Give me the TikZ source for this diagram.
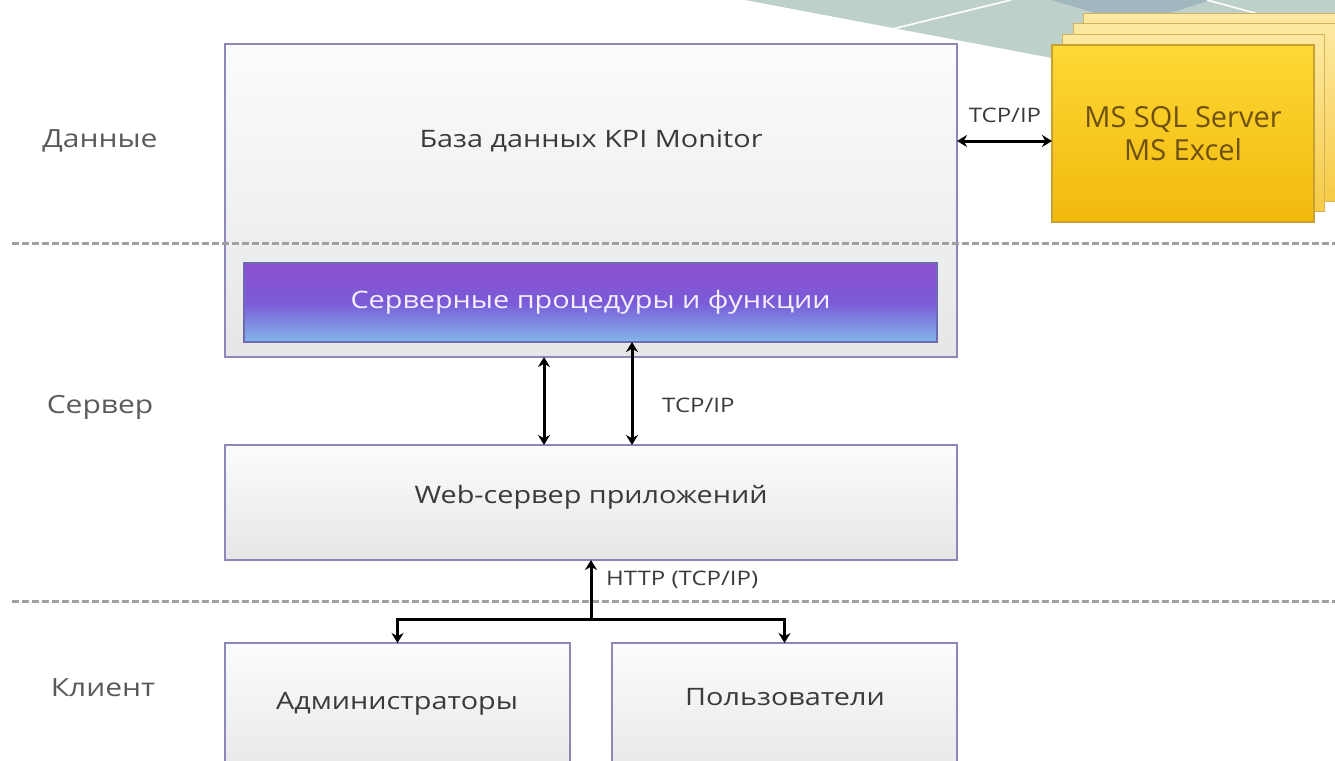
\documentclass[tikz,border=0pt]{standalone}
\usepackage{fontspec}
\setmainfont[FakeStretch=1.2]{Open Sans}
\newfontfamily\msfont{Open Sans}
\usetikzlibrary{arrows.meta}
\definecolor{decoA}{HTML}{BDD0CA}
\definecolor{decoB}{HTML}{A0B7BF}
\definecolor{boxborder}{HTML}{8C88B8}
\definecolor{purborder}{HTML}{6E6AB0}
\definecolor{boxtop}{HTML}{FAFCFE}
\definecolor{boxbot}{HTML}{E6E6E6}
\definecolor{txt}{HTML}{3A3A3A}
\definecolor{lbl}{HTML}{5A5A5A}
\definecolor{dashc}{HTML}{A0A0A0}
\definecolor{purtop}{HTML}{8C4FCF}
\definecolor{purmid}{HTML}{7B5BD8}
\definecolor{purbot}{HTML}{82B6E8}
\definecolor{yelltop}{HTML}{FDD835}
\definecolor{yellbot}{HTML}{F2B90C}
\definecolor{yellborder}{HTML}{C9A032}
\definecolor{yellbacktop}{HTML}{FDE9A2}
\definecolor{yellbackbot}{HTML}{F6CB45}
\definecolor{yelltxt}{HTML}{6E5010}
\definecolor{bartxt}{HTML}{F4F0FF}
\begin{document}
\begin{tikzpicture}[x=1pt,y=-1pt,
  tierbox/.style={draw=boxborder,line width=1.2pt,top color=boxtop,bottom color=boxbot,inner sep=0pt,outer sep=0pt},
  boxtext/.style={text=txt,font=\fontsize{24}{28}\selectfont,inner sep=0pt},
  layerlbl/.style={text=lbl,font=\fontsize{25}{29}\selectfont,inner sep=0pt},
  smalllbl/.style={text=txt,font=\fontsize{20}{24}\selectfont,inner sep=0pt},
  conn/.style={line width=3pt,black,arrows={-Stealth[length=10pt,width=12pt]}},
  conn2/.style={line width=3pt,black,arrows={Stealth[length=10pt,width=12pt]-Stealth[length=10pt,width=12pt]}},
  sepline/.style={dashc,line width=3pt,dash pattern=on 7pt off 3pt},
  yback/.style={draw=yellborder!80,line width=1pt,top color=yellbacktop,bottom color=yellbackbot}
]
\useasboundingbox (0,0) rectangle (1335,760);
\clip (0,0) rectangle (1335,760);
% top decoration
\fill[decoA] (745,0) -- (1052,58) -- (1335,35) -- (1335,0) -- cycle;
\fill[decoB] (1052,0) -- (1095,13) -- (1170,13) -- (1210,0) -- cycle;
\draw[white,line width=1.6pt] (880,32) -- (1011,0);
\draw[white,line width=1.6pt] (1207,0) -- (1310,28);
% yellow stack
\foreach \i in {3,2,1}{
  \path[yback] (1052+10.5*\i,45-10.5*\i) rectangle (1314+10.5*\i,222-10.5*\i);
}
\node[draw=yellborder,line width=1.2pt,top color=yelltop,bottom color=yellbot,minimum width=262pt,minimum height=177pt,inner sep=0pt,outer sep=0pt,align=center,text=yelltxt,font=\msfont\fontsize{29}{33}\selectfont] (ms) at (1183,133.5) {MS SQL Server\\MS Excel};
% database
\node[tierbox,minimum width=732pt,minimum height=313pt] (db) at (591,200.5) {};
\node[boxtext] (dbtext) at (591,141) {База данных KPI Monitor};
\node[draw=purborder,line width=1.2pt,top color=purtop,bottom color=purbot,middle color=purmid,minimum width=693pt,minimum height=79pt,inner sep=0pt,outer sep=0pt,text=bartxt,font=\fontsize{24}{28}\selectfont] (bar) at (590.5,302.5) {Серверные процедуры и функции};
% web server
\node[tierbox,minimum width=732pt,minimum height=115pt] (web) at (591,502.5) {};
\node[boxtext] (webtext) at (591,497) {Web-сервер приложений};
% clients
\node[tierbox,minimum width=345pt,minimum height=140pt] (admin) at (397.5,713) {};
\node[boxtext] (admintext) at (397,704) {Администраторы};
\node[tierbox,minimum width=345pt,minimum height=140pt] (users) at (784.5,713) {};
\node[boxtext] (userstext) at (785,697) {Пользователи};
% separators
\draw[sepline] (12,243) -- (1335,243);
\draw[sepline] (12,601) -- (1335,601);
% layer labels
\node[layerlbl] (l1) at (100,141) {Данные};
\node[layerlbl] (l2) at (100,407) {Сервер};
\node[layerlbl] (l3) at (103,688) {Клиент};
% connectors
\draw[conn2] (dbtext -| db.east) -- (dbtext -| ms.west);
\node[smalllbl] (tcp1) at (1005,115) {TCP/IP};
\coordinate (a1) at (544,0);
\coordinate (a2) at (632,0);
\draw[conn2] (a1 |- db.south) -- (a1 |- web.north);
\draw[conn2] (a2 |- bar.south) -- (a2 |- web.north);
\node[smalllbl,anchor=west] (tcp2) at (662,405) {TCP/IP};
\coordinate (h) at (591,619);
\draw[conn] (h) -- (h |- web.south);
\draw[conn] (h) -| (admin.north);
\draw[conn] (h) -| (users.north);
\node[smalllbl,anchor=west] (http) at (606,580) {HTTP (TCP/IP)};
\end{tikzpicture}
\end{document}
